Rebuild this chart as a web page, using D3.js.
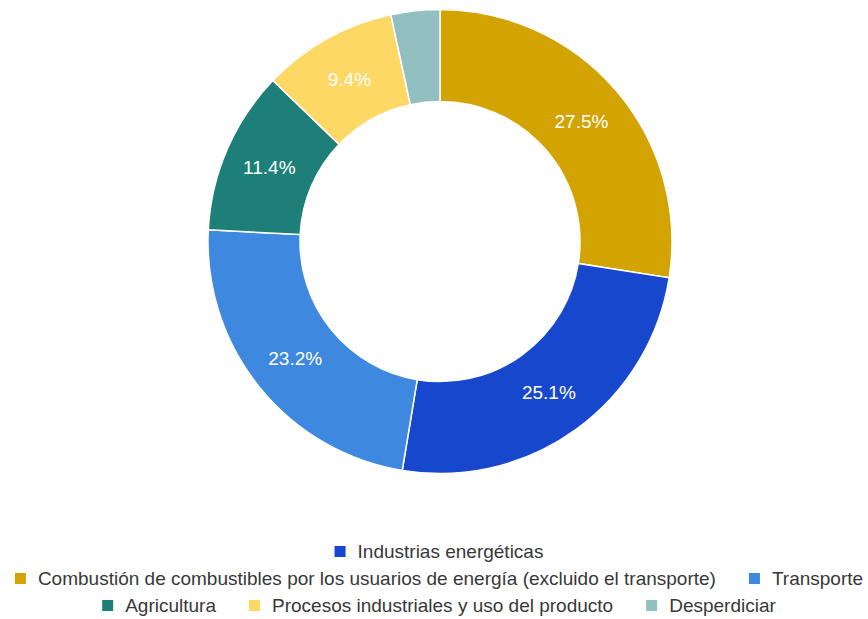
<!DOCTYPE html>
<html>
<head>
<meta charset="utf-8">
<script src="https://cdn.jsdelivr.net/npm/d3@7/dist/d3.min.js"></script>
<style>
  html, body { margin: 0; padding: 0; background: #fff; }
  svg { display: block; }
</style>
</head>
<body>
<svg id="chart" width="868" height="619"></svg>
<script>
// Emission shares by sector (%), in drawing order clockwise from 12 o'clock
const categories = [
  "Combustión de combustibles por los usuarios de energía (excluido el transporte)",
  "Industrias energéticas",
  "Transporte",
  "Agricultura",
  "Procesos industriales y uso del producto",
  "Desperdiciar"
];
const shares = [27.5, 25.1, 23.2, 11.4, 9.4, 3.4];
const colors = ["#d3a302", "#1747cc", "#3f88e0", "#1e7f79", "#fdd865", "#92c0c1"];

// Legend rows, listed by category
const legendRows = [
  ["Industrias energéticas"],
  ["Combustión de combustibles por los usuarios de energía (excluido el transporte)", "Transporte"],
  ["Agricultura", "Procesos industriales y uso del producto", "Desperdiciar"]
];

const width = 868, height = 619;
const cx = 440, cy = 241.5;
const outerR = 232, innerR = 140;
const fontFamily = "'Liberation Sans', Arial, sans-serif";

const svg = d3.select("#chart");
const data = categories.map((c, i) => ({ name: c, value: shares[i], color: colors[i] }));

const pie = d3.pie().value(d => d.value).sort(null);
const arc = d3.arc().innerRadius(innerR).outerRadius(outerR);
const labelArc = d3.arc().innerRadius((innerR + outerR) / 2).outerRadius((innerR + outerR) / 2);

const g = svg.append("g").attr("transform", `translate(${cx},${cy})`);
const arcs = pie(data);

g.selectAll("path.slice")
  .data(arcs)
  .join("path")
  .attr("class", "slice")
  .attr("d", arc)
  .attr("fill", d => d.data.color)
  .attr("stroke", "#fff")
  .attr("stroke-width", 1.5);

// Percentage labels on slices large enough to hold them
g.selectAll("text.pct")
  .data(arcs.filter(d => d.data.value >= 5))
  .join("text")
  .attr("class", "pct")
  .attr("transform", d => `translate(${labelArc.centroid(d)})`)
  .attr("text-anchor", "middle")
  .attr("dy", "0.36em")
  .attr("fill", "#fff")
  .style("font-family", fontFamily)
  .style("font-size", "19px")
  .text(d => d.data.value.toFixed(1) + "%");

// Legend: centred rows of swatch + label
const colorOf = d3.scaleOrdinal().domain(categories).range(colors);
const legend = svg.append("g");
const rowBaselines = [558, 585, 612];
const sw = 11, swGap = 12, itemGap = 33;
const legendCenter = 439;

legendRows.forEach((row, ri) => {
  const rowG = legend.append("g");
  let x = 0;
  row.forEach(name => {
    const item = rowG.append("g").attr("transform", `translate(${x},0)`);
    item.append("rect")
      .attr("x", 0).attr("y", -12)
      .attr("width", sw).attr("height", sw)
      .attr("fill", colorOf(name));
    const t = item.append("text")
      .attr("x", sw + swGap).attr("y", 0)
      .attr("fill", "#383838")
      .style("font-family", fontFamily)
      .style("font-size", "19px")
      .text(name);
    x += sw + swGap + t.node().getComputedTextLength() + itemGap;
  });
  const rowWidth = x - itemGap;
  rowG.attr("transform", `translate(${legendCenter - rowWidth / 2},${rowBaselines[ri]})`);
});
</script>
</body>
</html>
